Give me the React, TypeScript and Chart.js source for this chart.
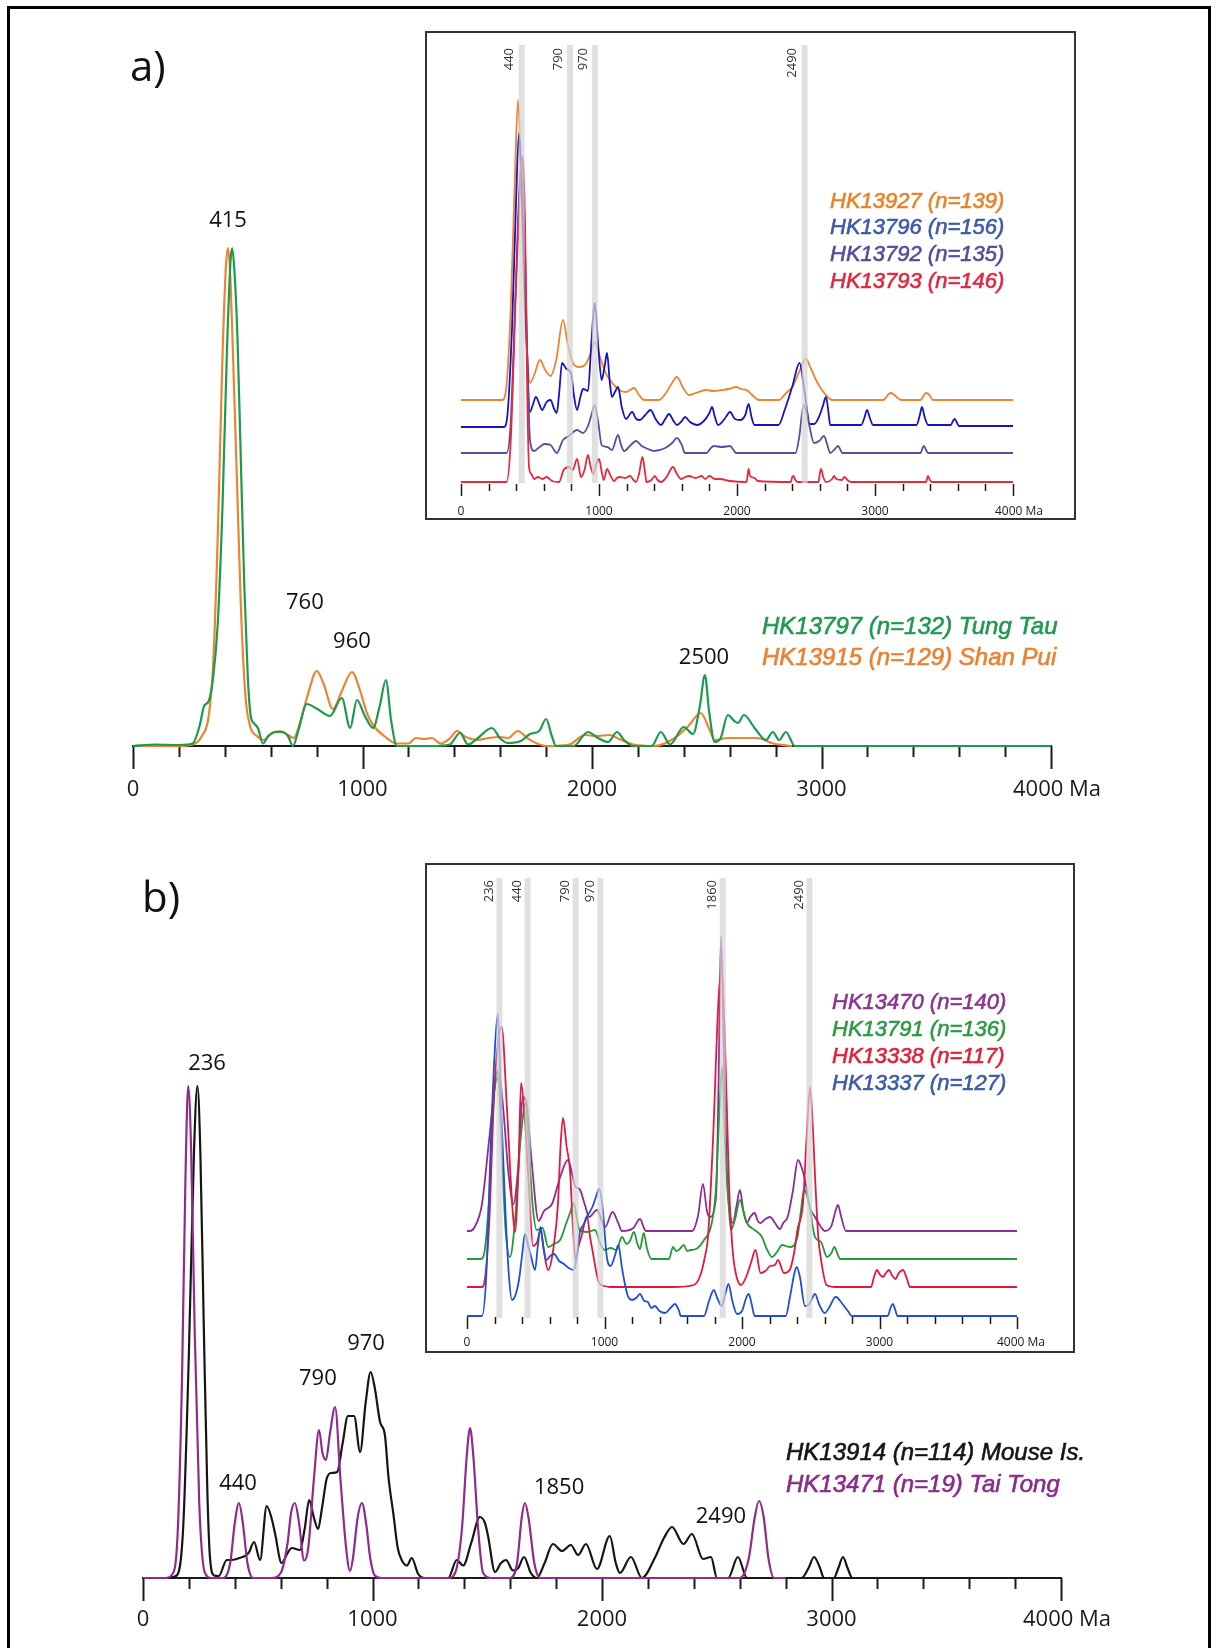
import { useEffect, useRef } from 'react';
import { Chart, registerables } from 'chart.js';

Chart.register(...registerables);

const W = 1218;
const H = 1648;

type Pt = [number, number];

// ---------- axis ticks ----------
const TICK_STEP = 200;
const MAJOR_TICKS = [0, 1000, 2000, 3000, 4000];
const TICK_LABELS = ['0', '1000', '2000', '3000', '4000 Ma'];

// ---------- panel a (main) ----------
const MAIN_A_NAMES = ['HK13797 (n=132) Tung Tau', 'HK13915 (n=129) Shan Pui'];
const HK13797: Pt[] = [
  [0, 0], [100, 0.3], [200, 0.2], [260, 0.5], [290, 4], [310, 8], [330, 9], [350, 14], [370, 25], [390, 48],
  [410, 80], [425, 97], [432, 99.6], [442, 95], [455, 82], [470, 57], [485, 32], [500, 14], [513, 6], [528, 4.5],
  [545, 3.5], [566, 0.5], [590, 2], [620, 2.8], [650, 2.8], [675, 2], [697, 0], [720, 3], [757, 8.4], [800, 7.5],
  [858, 6], [910, 9.6], [946, 3.6], [976, 9.2], [1010, 6], [1046, 3.6], [1075, 8], [1102, 13.2], [1125, 5], [1150, 0],
  [1190, 0], [1300, 0], [1380, 0.3], [1425, 2.6], [1460, 0.3], [1500, 1.5], [1564, 3.6], [1600, 1.5], [1634, 0.6], [1690, 1],
  [1730, 2.4], [1770, 3], [1800, 5.4], [1825, 2], [1843, 0], [1920, 0], [1982, 2.8], [2030, 1.5], [2070, 0.8], [2109, 2.8],
  [2140, 1.2], [2180, 0], [2260, 0], [2300, 2.8], [2340, 0.3], [2400, 3.8], [2440, 2.4], [2470, 8], [2492, 14.2], [2510, 7],
  [2535, 0.8], [2560, 1.5], [2592, 6.2], [2620, 5], [2636, 4.6], [2662, 6.2], [2710, 3.5], [2758, 1.2], [2788, 2.8], [2815, 1.2],
  [2845, 2.8], [2884, 0], [3000, 0], [4000, 0],
];
const HK13915: Pt[] = [
  [0, 0], [200, 0], [270, 0.5], [300, 2], [330, 6], [350, 17], [370, 43], [390, 78], [405, 96], [414, 99.6],
  [425, 93], [440, 72], [455, 50], [470, 28], [490, 10], [510, 4], [540, 2], [570, 1.2], [600, 2.4], [640, 3],
  [675, 2.2], [700, 1.6], [730, 5], [760, 10], [801, 15], [830, 12.5], [871, 7.4], [910, 11], [954, 14.8], [990, 11],
  [1020, 6.5], [1046, 4.2], [1100, 1.8], [1150, 0.5], [1200, 0.5], [1233, 1.6], [1270, 1.4], [1302, 1.6], [1340, 0.5], [1380, 1.5],
  [1412, 3], [1450, 1.8], [1500, 1.2], [1551, 1.6], [1600, 1.8], [1634, 1.6], [1677, 3], [1720, 1.5], [1800, 0], [1900, 0.3],
  [1970, 2.2], [2020, 2], [2078, 2.2], [2109, 1.6], [2180, 0.3], [2274, 0], [2357, 1.5], [2420, 4], [2474, 6.6], [2510, 3.5],
  [2535, 1.2], [2592, 1.6], [2650, 1.6], [2718, 1.6], [2790, 0.5], [2871, 0],
];
const PEAKS_A: [string, number, number][] = [['415', 414, 105], ['760', 749, 28.6], ['960', 954, 20.8], ['2500', 2488, 17.6]];

// ---------- panel a (inset) ----------
const INSET_A_NAMES = ['HK13927 (n=139)', 'HK13796 (n=156)', 'HK13792 (n=135)', 'HK13793 (n=146)'];
const INSET_A_OFFSETS = [82, 55, 29, 0];
const BANDS_A = [440, 790, 970, 2490];
const HK13927: Pt[] = [
  [0, 0], [300, 0], [330, 15], [360, 90], [390, 220], [413, 300], [430, 250], [455, 120], [480, 45], [500, 17],
  [530, 25], [573, 40], [610, 30], [649, 24], [690, 40], [739, 80], [775, 55], [811, 37], [855, 33], [899, 35],
  [935, 45], [969, 58], [1010, 42], [1048, 27], [1090, 18], [1123, 13], [1160, 9], [1196, 8], [1225, 10], [1254, 12],
  [1290, 5], [1330, 0], [1435, 0], [1480, 6], [1520, 15], [1565, 23], [1610, 12], [1652, 5], [1700, 7], [1775, 10],
  [1830, 9], [1891, 10], [1940, 11], [1993, 13], [2030, 11], [2069, 10], [2110, 5], [2159, 0], [2305, 0], [2350, 6],
  [2409, 15], [2450, 28], [2498, 41], [2540, 30], [2580, 18], [2616, 10], [2650, 4], [2689, 0], [3060, 0], [3100, 6],
  [3116, 7], [3140, 5], [3190, 0], [3330, 0], [3360, 6], [3370, 7], [3395, 5], [3420, 0], [4000, 0],
];
const HK13796: Pt[] = [
  [0, 0], [310, 0], [335, 10], [370, 100], [400, 230], [420, 294], [440, 240], [470, 110], [500, 15], [520, 22],
  [543, 30], [570, 22], [587, 17], [620, 25], [649, 27], [675, 18], [694, 14], [712, 35], [732, 64], [765, 58],
  [797, 54], [820, 30], [841, 17], [865, 30], [884, 38], [905, 37], [920, 36], [945, 85], [969, 124], [995, 80],
  [1019, 47], [1040, 60], [1058, 74], [1078, 45], [1094, 30], [1115, 35], [1138, 40], [1165, 20], [1196, 8], [1220, 12],
  [1240, 15], [1270, 8], [1297, 7], [1335, 12], [1374, 17], [1410, 8], [1449, 2], [1480, 8], [1507, 13], [1540, 6],
  [1565, 2], [1600, 6], [1623, 10], [1660, 5], [1710, 2], [1760, 6], [1800, 14], [1819, 20], [1840, 10], [1863, 2],
  [1910, 8], [1950, 15], [1985, 8], [2022, 7], [2060, 12], [2084, 23], [2105, 10], [2127, 2], [2300, 2], [2348, 18],
  [2400, 40], [2453, 64], [2490, 35], [2529, 3], [2560, 3], [2587, 8], [2620, 20], [2645, 30], [2665, 12], [2675, 2],
  [2900, 2], [2925, 10], [2942, 17], [2965, 8], [2986, 2], [3300, 2], [3325, 12], [3340, 20], [3360, 10], [3385, 2],
  [3550, 2], [3565, 6], [3577, 8], [3595, 4], [3608, 1], [4000, 1],
];
const HK13792: Pt[] = [
  [0, 0], [330, 0], [360, 30], [395, 160], [425, 270], [442, 296], [460, 230], [480, 100], [500, 13], [529, 2],
  [570, 6], [605, 9], [649, 8], [694, 0], [739, 13], [782, 17], [841, 23], [884, 20], [920, 27], [945, 38],
  [969, 48], [995, 30], [1019, 8], [1060, 6], [1094, 3], [1138, 18], [1160, 8], [1182, 2], [1230, 8], [1268, 12],
  [1310, 7], [1355, 4], [1399, 2], [1480, 5], [1530, 10], [1565, 15], [1600, 8], [1623, 0], [1780, 0], [1810, 5],
  [1833, 7], [1890, 6], [1950, 7], [1975, 3], [1993, 0], [2424, 0], [2450, 15], [2483, 48], [2520, 30], [2558, 10],
  [2595, 12], [2630, 17], [2655, 8], [2675, 0], [2710, 4], [2732, 7], [2750, 3], [2762, 0], [3330, 0], [3345, 5],
  [3355, 7], [3370, 3], [3385, 0], [4000, 0],
];
const HK13793: Pt[] = [
  [0, 0], [330, 0], [360, 40], [400, 200], [430, 300], [450, 325], [465, 250], [480, 90], [493, 15], [510, 8],
  [530, 3], [558, 5], [590, 3], [620, 5], [660, 1], [710, 0], [744, 12], [782, 15], [810, 12], [841, 23],
  [870, 5], [895, 12], [920, 27], [940, 15], [960, 8], [980, 18], [1000, 23], [1020, 10], [1034, 2], [1058, 13],
  [1085, 6], [1109, 1], [1130, 4], [1152, 5], [1190, 4], [1225, 6], [1250, 2], [1268, 0], [1290, 8], [1315, 25],
  [1335, 8], [1344, 0], [1380, 2], [1404, 6], [1425, 2], [1449, 0], [1490, 5], [1536, 15], [1565, 8], [1594, 3],
  [1625, 5], [1652, 6], [1700, 4], [1743, 6], [1770, 3], [1800, 6], [1840, 3], [1877, 3], [1950, 1], [2069, 0],
  [2078, 8], [2084, 13], [2095, 6], [2128, 4], [2150, 1], [2390, 0], [2400, 5], [2409, 6], [2420, 3], [2438, 0],
  [2590, 0], [2600, 8], [2609, 13], [2625, 5], [2645, 0], [2690, 3], [2703, 6], [2720, 3], [2760, 2], [2779, 5],
  [2800, 2], [2826, 0], [3370, 0], [3384, 6], [3398, 2], [3410, 0], [4000, 0],
];

// ---------- panel b (main) ----------
const MAIN_B_NAMES = ['HK13914 (n=114) Mouse Is.', 'HK13471 (n=19) Tai Tong'];
const HK13914: Pt[] = [
  [0, 0], [100, 0], [147, 0.5], [175, 10], [200, 45], [222, 85], [237, 98.4], [250, 85], [265, 50], [280, 18],
  [292, 4], [310, 0.5], [330, 0.4], [365, 3.6], [386, 3.6], [420, 4], [460, 5], [484, 7.2], [510, 3.6], [539, 14.4],
  [560, 12], [575, 9], [604, 3], [630, 5], [648, 6], [684, 5.6], [705, 10], [724, 15.6], [745, 12], [763, 9.8],
  [780, 14], [800, 19.8], [820, 21], [846, 21.2], [870, 27], [893, 32.4], [920, 32.4], [946, 25.2], [970, 35], [992, 41.2],
  [1010, 38], [1033, 31.2], [1054, 28.6], [1070, 20], [1091, 12.8], [1110, 6], [1127, 3.6], [1150, 2.5], [1171, 4], [1199, 0.8],
  [1230, 0], [1330, 0], [1367, 3.6], [1395, 2.5], [1430, 7], [1468, 12.2], [1490, 11], [1503, 8.5], [1534, 1.2], [1560, 3],
  [1582, 3.6], [1612, 1.5], [1635, 2], [1660, 4.2], [1690, 1], [1716, 0], [1750, 3], [1786, 6.8], [1826, 5.4], [1864, 6.6],
  [1896, 4.6], [1930, 6.8], [1978, 1.8], [2034, 8.4], [2060, 3], [2078, 1], [2126, 4.2], [2174, 0], [2230, 4], [2270, 8],
  [2305, 10.2], [2355, 6.8], [2392, 8.8], [2440, 3.8], [2475, 4.2], [2501, 0], [2550, 0], [2592, 4.2], [2632, 0], [2869, 0],
  [2900, 2], [2924, 4.2], [2950, 2], [2967, 0], [3010, 0], [3030, 2], [3050, 4.2], [3070, 2], [3091, 0], [3202, 0],
];
const HK13471: Pt[] = [
  [0, 0], [100, 0], [125, 0.6], [150, 8], [170, 40], [185, 80], [197, 98.4], [210, 85], [225, 50], [245, 15],
  [270, 1], [300, 0], [350, 0], [380, 3], [400, 11], [418, 15], [435, 11], [455, 3], [480, 0], [560, 0],
  [600, 1], [630, 7], [645, 13], [662, 15], [680, 11], [702, 3.5], [720, 6], [745, 20], [767, 29.6], [782, 25],
  [797, 23.6], [815, 29], [837, 34.2], [860, 20], [885, 6], [902, 1.4], [915, 4], [935, 12], [954, 15], [972, 11],
  [990, 4], [1010, 0.5], [1040, 0], [1330, 0], [1360, 1], [1390, 10], [1410, 24], [1425, 30], [1440, 24], [1460, 10],
  [1482, 1], [1520, 0], [1600, 0], [1630, 3], [1650, 12], [1664, 15], [1680, 12], [1705, 3], [1730, 0], [1826, 0],
  [2600, 0], [2640, 4], [2665, 12], [2684, 15.4], [2705, 12], [2725, 4], [2750, 0], [2800, 0],
];
const PEAKS_B: [string, number, number][] = [
  ['236', 279, 102.8], ['440', 414, 18.8], ['790', 762, 39.8], ['970', 972, 46.8], ['1850', 1813, 18], ['2490', 2518, 12.2],
];

// ---------- panel b (inset) ----------
const INSET_B_NAMES = ['HK13470 (n=140)', 'HK13791 (n=136)', 'HK13338 (n=117)', 'HK13337 (n=127)'];
const INSET_B_OFFSETS = [85, 57, 29, 0];
const BANDS_B = [236, 440, 790, 970, 1860, 2490];
const HK13470: Pt[] = [
  [0, 0], [20, 0], [60, 5], [109, 27], [160, 90], [210, 150], [236, 154], [265, 120], [300, 60], [338, 27],
  [370, 60], [407, 134], [430, 130], [470, 70], [521, 10], [560, 20], [618, 27], [680, 55], [734, 71], [790, 44],
  [818, 42], [860, 25], [888, 14], [945, 21], [1004, 4], [1059, 19], [1100, 8], [1127, 0], [1210, 3], [1258, 12],
  [1290, 2], [1302, 0], [1636, 0], [1680, 15], [1716, 47], [1745, 20], [1767, 14], [1811, 34], [1830, 150], [1847, 294],
  [1868, 180], [1891, 54], [1910, 20], [1934, 8], [1960, 25], [1985, 41], [2010, 20], [2036, 8], [2060, 14], [2092, 18],
  [2115, 10], [2134, 8], [2170, 12], [2204, 14], [2240, 8], [2276, 2], [2300, 8], [2332, 14], [2370, 40], [2407, 71],
  [2430, 65], [2458, 51], [2490, 25], [2531, 14], [2570, 5], [2601, 0], [2650, 5], [2680, 20], [2698, 26], [2720, 15],
  [2756, 0], [2884, 0], [4000, 0],
];
const HK13791: Pt[] = [
  [0, 0], [100, 0], [130, 10], [160, 60], [190, 150], [224, 189], [250, 120], [280, 30], [313, 2], [350, 40],
  [390, 120], [428, 156], [450, 110], [480, 50], [507, 29], [550, 31], [590, 12], [630, 15], [677, 19], [720, 35],
  [749, 46], [776, 56], [800, 40], [818, 29], [873, 27], [931, 29], [970, 15], [1002, 9], [1045, 11], [1087, 9],
  [1127, 22], [1160, 15], [1185, 18], [1214, 27], [1240, 15], [1258, 10], [1285, 26], [1310, 10], [1342, 0], [1469, 0],
  [1498, 12], [1520, 8], [1540, 9], [1578, 14], [1600, 8], [1625, 9], [1666, 10], [1724, 19], [1780, 36], [1810, 70],
  [1840, 160], [1856, 192], [1875, 120], [1900, 60], [1920, 29], [1950, 40], [1985, 59], [2010, 48], [2036, 36], [2092, 29],
  [2145, 22], [2180, 10], [2218, 2], [2260, 8], [2291, 14], [2347, 12], [2403, 22], [2430, 50], [2450, 69], [2487, 56],
  [2531, 22], [2575, 17], [2618, 2], [2650, 6], [2672, 12], [2695, 5], [2714, 0], [2856, 0], [4000, 0],
];
const HK13338: Pt[] = [
  [0, 0], [110, 0], [124, 3], [160, 60], [200, 200], [252, 260], [290, 180], [330, 80], [349, 55], [375, 120],
  [393, 204], [420, 170], [450, 100], [480, 41], [510, 45], [535, 57], [560, 35], [590, 17], [630, 40], [662, 84],
  [680, 140], [698, 169], [725, 140], [749, 117], [770, 60], [790, 27], [810, 40], [833, 51], [873, 71], [895, 50],
  [916, 34], [940, 15], [960, 4], [1000, 1], [1036, 0], [1498, 0], [1650, 2], [1695, 11], [1730, 30], [1753, 51],
  [1790, 150], [1830, 290], [1852, 317], [1875, 250], [1906, 101], [1930, 40], [1950, 17], [1993, 2], [2030, 10], [2065, 24],
  [2098, 37], [2135, 14], [2170, 16], [2204, 21], [2240, 22], [2262, 27], [2305, 14], [2347, 17], [2380, 35], [2403, 57],
  [2444, 84], [2470, 150], [2495, 200], [2515, 160], [2531, 111], [2555, 50], [2575, 27], [2615, 2], [2680, 0], [2938, 0],
  [2960, 10], [2982, 17], [3000, 13], [3025, 10], [3047, 14], [3069, 17], [3090, 12], [3116, 8], [3140, 14], [3171, 17],
  [3200, 8], [3222, 0], [3393, 0], [4000, 0],
];
const HK13337: Pt[] = [
  [0, 0], [100, 0], [109, 0], [140, 40], [175, 180], [200, 260], [224, 302], [250, 200], [281, 100], [305, 40],
  [327, 16], [350, 20], [378, 36], [400, 60], [422, 82], [445, 70], [465, 60], [495, 46], [515, 70], [535, 89],
  [555, 70], [578, 56], [605, 60], [633, 62], [670, 55], [705, 52], [740, 48], [776, 46], [800, 60], [818, 82],
  [850, 92], [873, 99], [915, 110], [940, 120], [960, 127], [985, 110], [1017, 59], [1045, 50], [1075, 60], [1101, 71],
  [1125, 50], [1144, 35], [1170, 20], [1200, 16], [1230, 18], [1258, 22], [1290, 15], [1315, 14], [1340, 8], [1367, 10],
  [1400, 5], [1440, 3], [1480, 8], [1512, 12], [1540, 6], [1555, 0], [1724, 0], [1760, 15], [1795, 26], [1820, 18],
  [1852, 10], [1875, 20], [1902, 32], [1930, 15], [1964, 2], [2000, 5], [2030, 18], [2049, 22], [2070, 12], [2092, 0],
  [2318, 0], [2350, 20], [2380, 42], [2397, 49], [2420, 40], [2458, 10], [2490, 12], [2531, 22], [2560, 12], [2601, 3],
  [2640, 10], [2670, 18], [2685, 19], [2720, 14], [2742, 10], [2770, 5], [2799, 0], [3060, 0], [3080, 8], [3096, 12],
  [3115, 6], [3130, 0], [3298, 0], [4000, 0],
];

// ---------- styling ----------
const SANS = "'Open Sans', 'DejaVu Sans', sans-serif";
const ITAL = "'Liberation Sans', Arial, sans-serif";

interface Series { data: Pt[]; color: string; width: number; offset: number }
interface Area { left: number; right: number; top: number; bottom: number }

const toXY = (pts: Pt[], off: number) => pts.map(([x, y]) => ({ x, y: y + off }));

function baseConfig(area: Area, yMax: number, series: Series[], plugins: any[]) {
  return {
    type: 'line' as const,
    data: {
      datasets: series.map((s) => ({
        data: toXY(s.data, s.offset),
        borderColor: s.color,
        borderWidth: s.width,
        pointRadius: 0,
        fill: false,
        cubicInterpolationMode: 'monotone' as const,
        clip: false as any,
        borderJoinStyle: 'round' as const,
      })),
    },
    options: {
      responsive: false,
      animation: false as const,
      devicePixelRatio: 1,
      events: [],
      layout: { padding: { left: area.left, right: W - area.right, top: area.top, bottom: H - area.bottom } },
      scales: {
        x: { type: 'linear' as const, min: 0, max: 4000, display: false },
        y: { type: 'linear' as const, min: 0, max: yMax, display: false },
      },
      plugins: { legend: { display: false }, tooltip: { enabled: false } },
    },
    plugins,
  };
}

function drawTicks(chart: any, o: { long: number; short: number; lw: number; font: string; labelY: number; maOffset: number; start: number }) {
  const ctx = chart.ctx as CanvasRenderingContext2D;
  const xs = chart.scales.x;
  ctx.save();
  ctx.strokeStyle = '#1a1a1a';
  ctx.lineWidth = o.lw;
  for (let v = 0; v <= 4000; v += TICK_STEP) {
    const px = Math.round(xs.getPixelForValue(v)) + 0.5;
    const major = MAJOR_TICKS.includes(v);
    ctx.beginPath();
    ctx.moveTo(px, o.start);
    ctx.lineTo(px, o.start + (major ? o.long : o.short));
    ctx.stroke();
  }
  ctx.fillStyle = '#1a1a1a';
  ctx.font = o.font;
  ctx.textBaseline = 'middle';
  MAJOR_TICKS.forEach((v, i) => {
    const px = xs.getPixelForValue(v);
    const label = TICK_LABELS[i];
    if (label.includes('Ma')) {
      ctx.textAlign = 'left';
      ctx.fillText(label, px - o.maOffset, o.labelY);
    } else {
      ctx.textAlign = 'center';
      ctx.fillText(label, px, o.labelY);
    }
  });
  ctx.restore();
}

function legendText(ctx: CanvasRenderingContext2D, names: string[], colors: string[], x: number, ys: number[]) {
  ctx.textAlign = 'left';
  ctx.textBaseline = 'middle';
  ctx.lineWidth = 0.6;
  names.forEach((n, i) => {
    ctx.fillStyle = colors[i];
    ctx.strokeStyle = colors[i];
    ctx.fillText(n, x, ys[i]);
    ctx.strokeText(n, x, ys[i]);
  });
}

function mainPlugin(opts: {
  panel: string; panelX: number; panelY: number; peaks: [string, number, number][];
  names: string[]; colors: string[]; legendX: number; legendY: number[]; tickLabelY: number; frame: boolean;
}) {
  return {
    id: 'mainDeco',
    beforeDatasetsDraw(chart: any) {
      const ctx = chart.ctx as CanvasRenderingContext2D;
      const xs = chart.scales.x;
      const y0 = chart.scales.y.getPixelForValue(0);
      ctx.save();
      ctx.strokeStyle = '#1a1a1a';
      ctx.lineWidth = 2;
      ctx.beginPath();
      ctx.moveTo(xs.getPixelForValue(0) - 1, y0);
      ctx.lineTo(xs.getPixelForValue(4000) + 1, y0);
      ctx.stroke();
      ctx.restore();
      drawTicks(chart, { long: 23, short: 11, lw: 2, font: `22px ${SANS}`, labelY: opts.tickLabelY, maOffset: 38, start: y0 });
    },
    afterDraw(chart: any) {
      const ctx = chart.ctx as CanvasRenderingContext2D;
      const xs = chart.scales.x;
      const ys = chart.scales.y;
      ctx.save();
      if (opts.frame) {
        ctx.strokeStyle = '#000';
        ctx.lineWidth = 3;
        ctx.beginPath();
        ctx.moveTo(8.5, H + 5);
        ctx.lineTo(8.5, 7.5);
        ctx.lineTo(1209.5, 7.5);
        ctx.lineTo(1209.5, H + 5);
        ctx.stroke();
      }
      ctx.fillStyle = '#111';
      ctx.font = `42px ${SANS}`;
      ctx.textAlign = 'left';
      ctx.textBaseline = 'alphabetic';
      ctx.fillText(opts.panel, opts.panelX, opts.panelY);
      ctx.font = `22px ${SANS}`;
      ctx.textAlign = 'center';
      ctx.textBaseline = 'middle';
      opts.peaks.forEach(([t, x, y]) => ctx.fillText(t, xs.getPixelForValue(x), ys.getPixelForValue(y)));
      ctx.font = `italic 24px ${ITAL}`;
      legendText(ctx, opts.names, opts.colors, opts.legendX, opts.legendY);
      ctx.restore();
    },
  };
}

function insetPlugin(opts: {
  box: [number, number, number, number]; bands: number[]; bandTop: number; bandBottom: number; bandLabelTop: number; bandLabelDx: number;
  names: string[]; colors: string[]; legendX: number; legendY: number[]; tickStart: number; tickLabelY: number; maOffset: number;
}) {
  return {
    id: 'insetDeco',
    beforeDraw(chart: any) {
      const ctx = chart.ctx as CanvasRenderingContext2D;
      const [bx, by, bw, bh] = opts.box;
      ctx.save();
      ctx.fillStyle = '#fff';
      ctx.fillRect(bx, by, bw, bh);
      ctx.restore();
    },
    afterDatasetsDraw(chart: any) {
      const ctx = chart.ctx as CanvasRenderingContext2D;
      const xs = chart.scales.x;
      ctx.save();
      ctx.fillStyle = 'rgba(212,212,212,0.72)';
      opts.bands.forEach((b) => {
        const px = xs.getPixelForValue(b);
        ctx.fillRect(px - 3, opts.bandTop, 6, opts.bandBottom - opts.bandTop);
      });
      ctx.fillStyle = '#333';
      ctx.font = `13px ${SANS}`;
      opts.bands.forEach((b) => {
        const px = xs.getPixelForValue(b);
        ctx.save();
        ctx.translate(px + opts.bandLabelDx, opts.bandLabelTop);
        ctx.rotate(-Math.PI / 2);
        ctx.textAlign = 'right';
        ctx.textBaseline = 'middle';
        ctx.fillText(String(b), 0, 0);
        ctx.restore();
      });
      ctx.restore();
    },
    afterDraw(chart: any) {
      const ctx = chart.ctx as CanvasRenderingContext2D;
      const [bx, by, bw, bh] = opts.box;
      drawTicks(chart, { long: 12, short: 7, lw: 1.5, font: `12px ${SANS}`, labelY: opts.tickLabelY, maOffset: opts.maOffset, start: opts.tickStart });
      ctx.save();
      ctx.strokeStyle = '#333';
      ctx.lineWidth = 2;
      ctx.strokeRect(bx, by, bw, bh);
      ctx.font = `italic 22px ${ITAL}`;
      legendText(ctx, opts.names, opts.colors, opts.legendX, opts.legendY);
      ctx.restore();
    },
  };
}

function buildMainA() {
  const area = { left: 133, right: 1051, top: 246, bottom: 746 };
  const series: Series[] = [
    { data: HK13797, color: '#1d9a4d', width: 2.2, offset: 0 },
    { data: HK13915, color: '#ee8431', width: 2.2, offset: 0 },
  ];
  return baseConfig(area, 100, series, [
    mainPlugin({
      panel: 'a)', panelX: 130, panelY: 81, peaks: PEAKS_A, names: MAIN_A_NAMES,
      colors: ['#1f9a4f', '#ec8032'], legendX: 762, legendY: [627, 658], tickLabelY: 790, frame: true,
    }),
  ]);
}

function buildMainB() {
  const area = { left: 143, right: 1061, top: 1078, bottom: 1578 };
  const series: Series[] = [
    { data: HK13471, color: '#8e2c8e', width: 2.2, offset: 0 },
    { data: HK13914, color: '#151515', width: 2.2, offset: 0 },
  ];
  return baseConfig(area, 100, series, [
    mainPlugin({
      panel: 'b)', panelX: 142, panelY: 912, peaks: PEAKS_B, names: MAIN_B_NAMES,
      colors: ['#151515', '#8c2a8c'], legendX: 786, legendY: [1453, 1485], tickLabelY: 1620, frame: false,
    }),
  ]);
}

function buildInsetA() {
  const area = { left: 461, right: 1013, top: 45, bottom: 482 };
  const series: Series[] = [
    { data: HK13793, color: '#e8283c', width: 1.8, offset: INSET_A_OFFSETS[3] },
    { data: HK13792, color: '#5e4a9e', width: 1.8, offset: INSET_A_OFFSETS[2] },
    { data: HK13796, color: '#1414c4', width: 1.8, offset: INSET_A_OFFSETS[1] },
    { data: HK13927, color: '#ee8431', width: 1.8, offset: INSET_A_OFFSETS[0] },
  ];
  return baseConfig(area, 437, series, [
    insetPlugin({
      box: [426, 32, 649, 487], bands: BANDS_A, bandTop: 45, bandBottom: 483, bandLabelTop: 48, bandLabelDx: -12,
      names: INSET_A_NAMES, colors: ['#e8822a', '#3c5aab', '#5b4b9a', '#e3263f'], legendX: 830, legendY: [202, 228, 255, 282],
      tickStart: 484, tickLabelY: 512, maOffset: 18,
    }),
  ]);
}

function buildInsetB() {
  const area = { left: 467, right: 1017, top: 878, bottom: 1316 };
  const series: Series[] = [
    { data: HK13337, color: '#1f4fd8', width: 1.8, offset: INSET_B_OFFSETS[3] },
    { data: HK13338, color: '#e2183f', width: 1.8, offset: INSET_B_OFFSETS[2] },
    { data: HK13791, color: '#229a36', width: 1.8, offset: INSET_B_OFFSETS[1] },
    { data: HK13470, color: '#8e2b96', width: 1.8, offset: INSET_B_OFFSETS[0] },
  ];
  return baseConfig(area, 438, series, [
    insetPlugin({
      box: [426, 864, 648, 488], bands: BANDS_B, bandTop: 878, bandBottom: 1318, bandLabelTop: 880, bandLabelDx: -10,
      names: INSET_B_NAMES, colors: ['#8a3590', '#2c9a44', '#e21f3a', '#3b5baa'], legendX: 832, legendY: [1003, 1030, 1057, 1084],
      tickStart: 1317, tickLabelY: 1343, maOffset: 20,
    }),
  ]);
}

export default function App() {
  const r1 = useRef<HTMLCanvasElement>(null);
  const r2 = useRef<HTMLCanvasElement>(null);
  const r3 = useRef<HTMLCanvasElement>(null);
  const r4 = useRef<HTMLCanvasElement>(null);

  useEffect(() => {
    const builders = [buildMainA, buildMainB, buildInsetA, buildInsetB];
    const refs = [r1, r2, r3, r4];
    const charts = refs.map((r, i) => new Chart(r.current as HTMLCanvasElement, builders[i]() as any));
    return () => charts.forEach((c) => c.destroy());
  }, []);

  const cs: React.CSSProperties = { position: 'absolute', left: 0, top: 0, width: W, height: H };
  return (
    <div style={{ position: 'absolute', left: 0, top: 0, width: W, height: H, background: '#fff', overflow: 'hidden' }}>
      <canvas ref={r1} width={W} height={H} style={cs} />
      <canvas ref={r2} width={W} height={H} style={cs} />
      <canvas ref={r3} width={W} height={H} style={cs} />
      <canvas ref={r4} width={W} height={H} style={cs} />
    </div>
  );
}
